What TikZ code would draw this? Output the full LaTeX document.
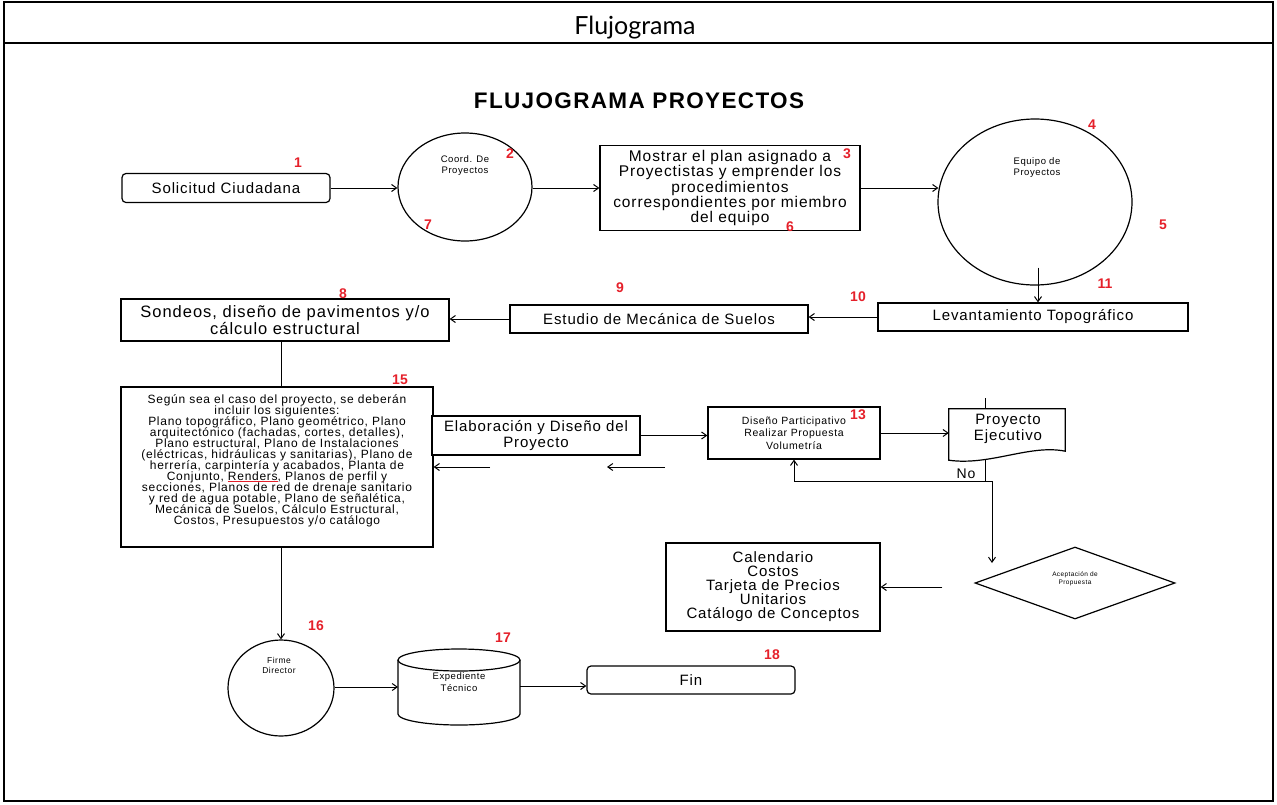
\documentclass[tikz,border=0pt]{standalone}
\usepackage{fontspec}
\setmainfont{Liberation Sans}
\newfontfamily\dg[LetterSpace=6]{Liberation Sans}
\newfontfamily\ttl{Lato}
\usetikzlibrary{shapes.geometric,arrows.meta}
\definecolor{numred}{HTML}{E5202A}
\newcommand\fs[2]{\dg\fontsize{#1}{#2}\selectfont}
\newcommand\tightlines{\lineskiplimit=-20pt\lineskip=0pt\relax}
\tikzset{
  box/.style={draw, line width=1.2pt, fill=white, align=center, inner sep=0pt},
  ell/.style={draw, ellipse, line width=1.2pt, inner sep=0pt},
  txt/.style={align=center, inner sep=0pt},
  num/.style={text=numred, inner sep=0pt, font=\bfseries\fontsize{14}{14}\selectfont},
  arr/.style={-{Straight Barb[length=5pt,width=7pt]}, line width=1pt},
  ln/.style={line width=1pt},
}
\begin{document}
\begin{tikzpicture}[x=1pt,y=-1pt]
\useasboundingbox (0,0) rectangle (1277,804);
% page frame and title bar
\draw[line width=1.5pt] (4,2) rectangle (1273,801);
\draw[line width=1.5pt] (4,43) -- (1273,43);
\node[txt, font=\ttl\fontsize{25}{25}\selectfont] (title) at (635,28) {Flujograma};
\node[txt, font=\dg\bfseries\fontsize{22.5}{22.5}\selectfont] (head) at (639,101) {FLUJOGRAMA PROYECTOS};

% first row
\node[box, rounded corners=4pt, minimum width=208, minimum height=29, font=\fs{15}{15}] (n1) at (226,188) {Solicitud Ciudadana};
\node[ell, minimum width=134, minimum height=108] (n2) at (465,187) {};
\node[txt, font=\fs{9.5}{11}] (t2) at (465,166) {Coord. De\\Proyectos};
\node[box, minimum width=260, minimum height=85, font=\fs{15.5}{14}] (n3) at (730,188)
  {Mostrar el plan asignado a\\Proyectistas y emprender los\\procedimientos\\correspondientes por miembro\\del equipo};
\node[ell, minimum width=194, minimum height=166] (n4) at (1035,202) {};
\node[txt, font=\fs{9.5}{11}] (t4) at (1037,168) {Equipo de\\Proyectos};

% second row
\node[box, minimum width=310, minimum height=28, font=\fs{15}{15}] (n11) at (1033,317) {Levantamiento Topográfico};
\node[box, minimum width=298, minimum height=28, font=\fs{15}{15}] (n9) at (659,319) {Estudio de Mecánica de Suelos};
\node[box, minimum width=328, minimum height=42, font=\fs{16.5}{17}] (n8) at (285,320) {Sondeos, diseño de pavimentos y/o\\cálculo estructural};

% third row
\node[box, minimum width=312, minimum height=160] (n15) at (277,467) {};
\node[txt, anchor=north, font=\fs{12}{11}\tightlines] (t15) at (277,394)
  {Según sea el caso del proyecto, se deberán\\incluir los siguientes:\\Plano topográfico, Plano geométrico, Plano\\arquitectónico (fachadas, cortes, detalles),\\Plano estructural, Plano de Instalaciones\\(eléctricas, hidráulicas y sanitarias), Plano de\\herrería, carpintería y acabados, Planta de\\Conjunto, \textcolor{numred}{$\underline{\hbox{\color{black}Renders}}$}, Planos de perfil y\\secciones, Planos de red de drenaje sanitario\\y red de agua potable, Plano de señalética,\\Mecánica de Suelos, Cálculo Estructural,\\Costos, Presupuestos y/o catálogo};
\node[box, minimum width=208, minimum height=39, font=\fs{15}{16}] (elab) at (536,435.5) {Elaboración y Diseño del\\Proyecto};
\node[box, minimum width=172, minimum height=52, font=\fs{10.5}{12.5}] (n13) at (794,433) {Diseño Participativo\\Realizar Propuesta\\Volumetría};
% document shape
\node[txt, minimum width=116, minimum height=51, text depth=0pt] (pe) at (1007,434.5) {};
\node[txt, font=\fs{15}{16}] (tpe) at (1008,429) {Proyecto\\Ejecutivo};
\draw[line width=1.2pt] (pe.south west) -- (pe.north west) -- (pe.north east) -- ([yshift=9pt]pe.south east)
  .. controls (1030,444) and (990,466) .. (pe.south west) -- cycle;

% fourth row
\node[draw, diamond, line width=1.2pt, minimum width=200, minimum height=72, inner sep=0pt] (dia) at (1075,583) {};
\node[txt, font=\fs{6.5}{8}] (tdia) at (1075,579) {Aceptación de\\Propuesta};
\node[box, minimum width=214, minimum height=88, font=\fs{15}{14}] (cal) at (773,587)
  {Calendario\\Costos\\Tarjeta de Precios\\Unitarios\\Catálogo de Conceptos};

% last row
\node[ell, minimum width=106, minimum height=96] (n16) at (281,688) {};
\node[txt, font=\fs{8.5}{10}] (t16) at (279,665) {Firme\\Director};
\node[txt, minimum width=122, minimum height=78] (exp) at (459,687) {};
\draw[line width=1.2pt, fill=white] (398,660) -- (398,714) arc[start angle=180, end angle=360, x radius=61, y radius=-11] -- (520,660);
\draw[line width=1.2pt] (459,660) ellipse[x radius=61, y radius=11];
\node[txt, font=\fs{9.5}{12}] (texp) at (459,682) {Expediente\\Técnico};
\node[box, rounded corners=4pt, minimum width=208, minimum height=28, font=\fs{15}{15}] (fin) at (691,680) {Fin};

% connectors
\draw[arr] (n1.east) -- (n1.east -| n2.west);
\draw[arr] (n2.east |- n3.west) -- (n3.west);
\draw[arr] (n3.east) -- ([xshift=1pt]n3.east -| n4.west);
\draw[arr] ([xshift=3pt,yshift=18pt]n4.south) -- ([xshift=3pt]n4.south |- n11.north);
\draw[arr] (n11.west) -- (n11.west -| n9.east);
\draw[arr] (n9.west) -- (n9.west -| n8.east);
\draw[ln] ([xshift=-4pt]n8.south) -- ([xshift=-4pt]n8.south |- n15.north);
\draw[arr] (n15.south -| n16.north) -- (n16.north);
\draw[arr] (elab.east) -- (elab.east -| n13.west);
\draw[arr] (n13.east) -- (n13.east -| pe.west);
\coordinate (pin) at (985,398);
\coordinate (split) at (985,481);
\coordinate (turn) at (992,481);
\coordinate (diatop) at (992,563);
\draw[ln] (pin) -- (pin |- pe.north);
\draw[ln] (split |- pe.south) -- (split);
\draw[arr] (split) -- (split -| n13.south) -- (n13.south);
\draw[arr] (split) -- (turn) -- (diatop);
\node[txt, font=\fs{14}{14}] (no) at (966,474) {No};
\draw[arr, shorten <=32pt] (dia.west |- cal.east) -- (cal.east);
\draw[arr] (n16.east |- exp.west) -- (398,687);
\draw[arr] (520,686) -- (fin.west |- 0,686);
% loose return arrows under the design box
\coordinate (a1) at (490,467);
\coordinate (a2) at (n15.east |- a1);
\coordinate (b1) at (665,467);
\coordinate (b2) at (607,467);
\draw[arr] (a1) -- (a2);
\draw[arr] (b1) -- (b2);

% step numbers
\node[num] (k1) at (298,163) {1};
\node[num] (k2) at (510,154) {2};
\node[num] (k3) at (847,154) {3};
\node[num] (k4) at (1092,125) {4};
\node[num] (k5) at (1163,225) {5};
\node[num] (k6) at (790,227) {6};
\node[num] (k7) at (428,225) {7};
\node[num] (k8) at (343,294) {8};
\node[num] (k9) at (620,288) {9};
\node[num] (k10) at (858,297) {10};
\node[num] (k11) at (1105,284) {11};
\node[num] (k13) at (858,415) {13};
\node[num] (k15) at (400,380) {15};
\node[num] (k16) at (316,626) {16};
\node[num] (k17) at (503,638) {17};
\node[num] (k18) at (772,655) {18};
\end{tikzpicture}
\end{document}
